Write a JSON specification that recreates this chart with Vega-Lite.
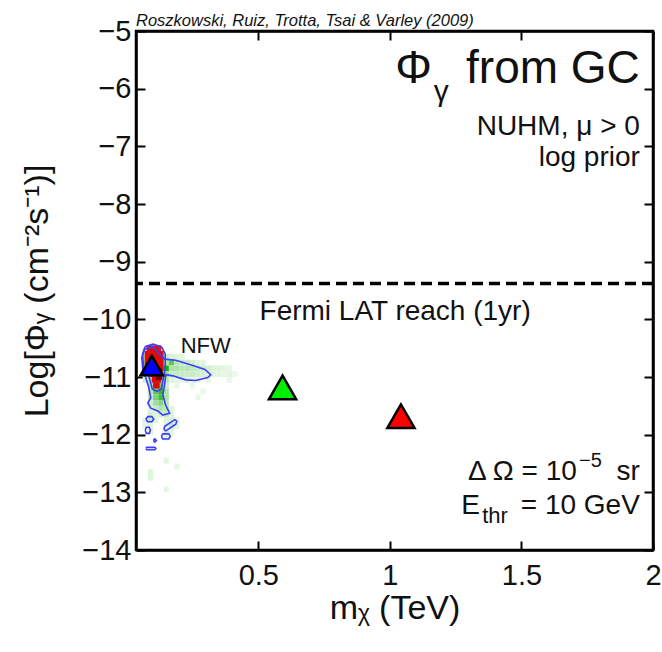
{
  "$schema": "https://vega.github.io/schema/vega-lite/v6.json",
  "width": 517,
  "height": 519,
  "autosize": {"type": "none"},
  "padding": {"left": 136, "top": 31, "right": 9, "bottom": 102},
  "background": "white",
  "title": {"text": "Roszkowski, Ruiz, Trotta, Tsai & Varley (2009)", "anchor": "start", "frame": "group", "offset": -12, "font": "Liberation Sans", "fontStyle": "italic", "fontWeight": "normal", "fontSize": 16.5, "color": "#111"},
  "config": {
    "view": {"stroke": "black", "strokeWidth": 2.5},
    "font": "Liberation Sans",
    "axis": {"domainColor": "black", "domainWidth": 2.5, "tickColor": "black", "tickWidth": 2, "tickSize": -9, "grid": false, "labelFont": "Liberation Sans", "labelFontSize": 29, "labelColor": "#111", "titleFont": "Liberation Sans", "titleFontSize": 34, "titleFontWeight": "normal", "titleColor": "#111", "labelFlush": false, "labelOverlap": false}
  },
  "datasets": {
    "green": [
      {"x":0.06,"x2":0.08,"y":-10.6,"y2":-10.5,"p":0.2},{"x":0.08,"x2":0.10,"y":-10.6,"y2":-10.5,"p":0.25},{"x":0.10,"x2":0.12,"y":-10.6,"y2":-10.5,"p":0.25},{"x":0.12,"x2":0.14,"y":-10.6,"y2":-10.5,"p":0.2},
      {"x":0.06,"x2":0.08,"y":-10.7,"y2":-10.6,"p":0.3},{"x":0.08,"x2":0.10,"y":-10.7,"y2":-10.6,"p":0.35},{"x":0.10,"x2":0.12,"y":-10.7,"y2":-10.6,"p":0.35},{"x":0.12,"x2":0.14,"y":-10.7,"y2":-10.6,"p":0.3},{"x":0.14,"x2":0.16,"y":-10.7,"y2":-10.6,"p":0.2},{"x":0.16,"x2":0.18,"y":-10.7,"y2":-10.6,"p":0.12},{"x":0.18,"x2":0.20,"y":-10.7,"y2":-10.6,"p":0.1},{"x":0.20,"x2":0.22,"y":-10.7,"y2":-10.6,"p":0.08},
      {"x":0.06,"x2":0.08,"y":-10.8,"y2":-10.7,"p":0.35},{"x":0.08,"x2":0.10,"y":-10.8,"y2":-10.7,"p":0.4},{"x":0.10,"x2":0.12,"y":-10.8,"y2":-10.7,"p":0.45},{"x":0.12,"x2":0.14,"y":-10.8,"y2":-10.7,"p":0.4},{"x":0.14,"x2":0.16,"y":-10.8,"y2":-10.7,"p":0.3},{"x":0.16,"x2":0.18,"y":-10.8,"y2":-10.7,"p":0.6},{"x":0.18,"x2":0.20,"y":-10.8,"y2":-10.7,"p":0.25},{"x":0.20,"x2":0.22,"y":-10.8,"y2":-10.7,"p":0.2},{"x":0.22,"x2":0.24,"y":-10.8,"y2":-10.7,"p":0.18},{"x":0.24,"x2":0.26,"y":-10.8,"y2":-10.7,"p":0.15},{"x":0.26,"x2":0.28,"y":-10.8,"y2":-10.7,"p":0.1},{"x":0.28,"x2":0.30,"y":-10.8,"y2":-10.7,"p":0.08},
      {"x":0.06,"x2":0.08,"y":-10.9,"y2":-10.8,"p":0.3},{"x":0.08,"x2":0.10,"y":-10.9,"y2":-10.8,"p":0.4},{"x":0.10,"x2":0.12,"y":-10.9,"y2":-10.8,"p":0.5},{"x":0.12,"x2":0.14,"y":-10.9,"y2":-10.8,"p":0.55},{"x":0.14,"x2":0.16,"y":-10.9,"y2":-10.8,"p":0.8},{"x":0.16,"x2":0.18,"y":-10.9,"y2":-10.8,"p":0.3},{"x":0.18,"x2":0.20,"y":-10.9,"y2":-10.8,"p":0.3},{"x":0.20,"x2":0.22,"y":-10.9,"y2":-10.8,"p":0.25},{"x":0.22,"x2":0.24,"y":-10.9,"y2":-10.8,"p":0.25},{"x":0.24,"x2":0.26,"y":-10.9,"y2":-10.8,"p":0.2},{"x":0.26,"x2":0.28,"y":-10.9,"y2":-10.8,"p":0.2},{"x":0.28,"x2":0.30,"y":-10.9,"y2":-10.8,"p":0.18},{"x":0.30,"x2":0.32,"y":-10.9,"y2":-10.8,"p":0.15},{"x":0.32,"x2":0.34,"y":-10.9,"y2":-10.8,"p":0.1},{"x":0.34,"x2":0.36,"y":-10.9,"y2":-10.8,"p":0.1},{"x":0.36,"x2":0.38,"y":-10.9,"y2":-10.8,"p":0.08},{"x":0.38,"x2":0.40,"y":-10.9,"y2":-10.8,"p":0.06},
      {"x":0.06,"x2":0.08,"y":-11.0,"y2":-10.9,"p":0.2},{"x":0.08,"x2":0.10,"y":-11.0,"y2":-10.9,"p":0.4},{"x":0.10,"x2":0.12,"y":-11.0,"y2":-10.9,"p":0.6},{"x":0.12,"x2":0.14,"y":-11.0,"y2":-10.9,"p":0.5},{"x":0.14,"x2":0.16,"y":-11.0,"y2":-10.9,"p":0.4},{"x":0.16,"x2":0.18,"y":-11.0,"y2":-10.9,"p":0.2},{"x":0.18,"x2":0.20,"y":-11.0,"y2":-10.9,"p":0.2},{"x":0.20,"x2":0.22,"y":-11.0,"y2":-10.9,"p":0.2},{"x":0.22,"x2":0.24,"y":-11.0,"y2":-10.9,"p":0.18},{"x":0.24,"x2":0.26,"y":-11.0,"y2":-10.9,"p":0.18},{"x":0.26,"x2":0.28,"y":-11.0,"y2":-10.9,"p":0.15},{"x":0.28,"x2":0.30,"y":-11.0,"y2":-10.9,"p":0.15},{"x":0.30,"x2":0.32,"y":-11.0,"y2":-10.9,"p":0.12},{"x":0.32,"x2":0.34,"y":-11.0,"y2":-10.9,"p":0.1},{"x":0.34,"x2":0.36,"y":-11.0,"y2":-10.9,"p":0.08},{"x":0.36,"x2":0.38,"y":-11.0,"y2":-10.9,"p":0.06},{"x":0.38,"x2":0.40,"y":-11.0,"y2":-10.9,"p":0.08},{"x":0.40,"x2":0.42,"y":-11.0,"y2":-10.9,"p":0.05},
      {"x":0.06,"x2":0.08,"y":-11.1,"y2":-11.0,"p":0.15},{"x":0.08,"x2":0.10,"y":-11.1,"y2":-11.0,"p":0.3},{"x":0.10,"x2":0.12,"y":-11.1,"y2":-11.0,"p":0.6},{"x":0.12,"x2":0.14,"y":-11.1,"y2":-11.0,"p":0.5},{"x":0.14,"x2":0.16,"y":-11.1,"y2":-11.0,"p":0.25},{"x":0.16,"x2":0.18,"y":-11.1,"y2":-11.0,"p":0.1},{"x":0.18,"x2":0.20,"y":-11.1,"y2":-11.0,"p":0.08},{"x":0.20,"x2":0.22,"y":-11.1,"y2":-11.0,"p":0.08},{"x":0.22,"x2":0.24,"y":-11.1,"y2":-11.0,"p":0.1},{"x":0.24,"x2":0.26,"y":-11.1,"y2":-11.0,"p":0.06},{"x":0.26,"x2":0.28,"y":-11.1,"y2":-11.0,"p":0.08},{"x":0.30,"x2":0.32,"y":-11.1,"y2":-11.0,"p":0.06},{"x":0.38,"x2":0.40,"y":-11.1,"y2":-11.0,"p":0.05},
      {"x":0.08,"x2":0.10,"y":-11.2,"y2":-11.1,"p":0.3},{"x":0.10,"x2":0.12,"y":-11.2,"y2":-11.1,"p":0.7},{"x":0.12,"x2":0.14,"y":-11.2,"y2":-11.1,"p":0.55},{"x":0.14,"x2":0.16,"y":-11.2,"y2":-11.1,"p":0.15},{"x":0.18,"x2":0.20,"y":-11.2,"y2":-11.1,"p":0.06},{"x":0.24,"x2":0.26,"y":-11.2,"y2":-11.1,"p":0.05},
      {"x":0.08,"x2":0.10,"y":-11.3,"y2":-11.2,"p":0.25},{"x":0.10,"x2":0.12,"y":-11.3,"y2":-11.2,"p":0.6},{"x":0.12,"x2":0.14,"y":-11.3,"y2":-11.2,"p":0.75},{"x":0.14,"x2":0.16,"y":-11.3,"y2":-11.2,"p":0.3},{"x":0.28,"x2":0.30,"y":-11.3,"y2":-11.2,"p":0.05},
      {"x":0.08,"x2":0.10,"y":-11.4,"y2":-11.3,"p":0.2},{"x":0.10,"x2":0.12,"y":-11.4,"y2":-11.3,"p":0.5},{"x":0.12,"x2":0.14,"y":-11.4,"y2":-11.3,"p":0.7},{"x":0.14,"x2":0.16,"y":-11.4,"y2":-11.3,"p":0.3},{"x":0.26,"x2":0.28,"y":-11.4,"y2":-11.3,"p":0.05},
      {"x":0.08,"x2":0.10,"y":-11.5,"y2":-11.4,"p":0.15},{"x":0.10,"x2":0.12,"y":-11.5,"y2":-11.4,"p":0.35},{"x":0.12,"x2":0.14,"y":-11.5,"y2":-11.4,"p":0.45},{"x":0.14,"x2":0.16,"y":-11.5,"y2":-11.4,"p":0.25},
      {"x":0.08,"x2":0.10,"y":-11.6,"y2":-11.5,"p":0.1},{"x":0.10,"x2":0.12,"y":-11.6,"y2":-11.5,"p":0.2},{"x":0.12,"x2":0.14,"y":-11.6,"y2":-11.5,"p":0.3},{"x":0.14,"x2":0.16,"y":-11.6,"y2":-11.5,"p":0.25},{"x":0.16,"x2":0.18,"y":-11.6,"y2":-11.5,"p":0.1},
      {"x":0.08,"x2":0.10,"y":-11.7,"y2":-11.6,"p":0.15},{"x":0.10,"x2":0.12,"y":-11.7,"y2":-11.6,"p":0.1},{"x":0.12,"x2":0.14,"y":-11.7,"y2":-11.6,"p":0.15},{"x":0.14,"x2":0.16,"y":-11.7,"y2":-11.6,"p":0.2},{"x":0.16,"x2":0.18,"y":-11.7,"y2":-11.6,"p":0.1},
      {"x":0.06,"x2":0.08,"y":-11.8,"y2":-11.7,"p":0.08},{"x":0.08,"x2":0.10,"y":-11.8,"y2":-11.7,"p":0.2},{"x":0.10,"x2":0.12,"y":-11.8,"y2":-11.7,"p":0.1},{"x":0.14,"x2":0.16,"y":-11.8,"y2":-11.7,"p":0.1},{"x":0.16,"x2":0.18,"y":-11.8,"y2":-11.7,"p":0.15},{"x":0.18,"x2":0.20,"y":-11.8,"y2":-11.7,"p":0.08},
      {"x":0.06,"x2":0.08,"y":-11.9,"y2":-11.8,"p":0.08},{"x":0.08,"x2":0.10,"y":-11.9,"y2":-11.8,"p":0.1},{"x":0.14,"x2":0.16,"y":-11.9,"y2":-11.8,"p":0.1},{"x":0.16,"x2":0.18,"y":-11.9,"y2":-11.8,"p":0.2},{"x":0.18,"x2":0.20,"y":-11.9,"y2":-11.8,"p":0.1},
      {"x":0.08,"x2":0.10,"y":-12.0,"y2":-11.9,"p":0.1},{"x":0.14,"x2":0.16,"y":-12.0,"y2":-11.9,"p":0.15},{"x":0.16,"x2":0.18,"y":-12.0,"y2":-11.9,"p":0.08},
      {"x":0.14,"x2":0.16,"y":-12.1,"y2":-12.0,"p":0.1},
      {"x":0.14,"x2":0.16,"y":-12.5,"y2":-12.4,"p":0.08},{"x":0.08,"x2":0.10,"y":-12.8,"y2":-12.6,"p":0.1},{"x":0.18,"x2":0.20,"y":-12.6,"y2":-12.5,"p":0.06},{"x":0.14,"x2":0.16,"y":-13.0,"y2":-12.9,"p":0.06}
    ],
    "red": [
      {"x":0.075,"x2":0.13,"y":-10.55,"y2":-10.45},
      {"x":0.068,"x2":0.14,"y":-10.9,"y2":-10.55},
      {"x":0.088,"x2":0.135,"y":-11.0,"y2":-10.9},
      {"x":0.095,"x2":0.13,"y":-11.1,"y2":-11.0},
      {"x":0.10,"x2":0.125,"y":-11.2,"y2":-11.1}
    ],
    "redDark": [
      {"x":0.11,"x2":0.135,"y":-11.05,"y2":-10.85}
    ],
    "contour": [
      {"c":1,"o":1,"x":0.068,"y":-10.52},{"c":1,"o":2,"x":0.099,"y":-10.48},{"c":1,"o":3,"x":0.118,"y":-10.57},{"c":1,"o":4,"x":0.144,"y":-10.69},{"c":1,"o":5,"x":0.186,"y":-10.71},{"c":1,"o":6,"x":0.251,"y":-10.80},{"c":1,"o":7,"x":0.297,"y":-10.87},{"c":1,"o":8,"x":0.319,"y":-10.96},{"c":1,"o":9,"x":0.308,"y":-11.01},{"c":1,"o":10,"x":0.262,"y":-11.06},{"c":1,"o":11,"x":0.224,"y":-11.05},{"c":1,"o":12,"x":0.175,"y":-10.98},{"c":1,"o":13,"x":0.148,"y":-10.96},{"c":1,"o":14,"x":0.144,"y":-11.13},{"c":1,"o":15,"x":0.137,"y":-11.31},{"c":1,"o":16,"x":0.148,"y":-11.49},{"c":1,"o":17,"x":0.163,"y":-11.63},{"c":1,"o":18,"x":0.137,"y":-11.66},{"c":1,"o":19,"x":0.118,"y":-11.59},{"c":1,"o":20,"x":0.091,"y":-11.54},{"c":1,"o":21,"x":0.080,"y":-11.45},{"c":1,"o":22,"x":0.091,"y":-11.36},{"c":1,"o":23,"x":0.084,"y":-11.19},{"c":1,"o":24,"x":0.072,"y":-11.01},{"c":1,"o":25,"x":0.061,"y":-10.87},{"c":1,"o":26,"x":0.057,"y":-10.66},{"c":1,"o":27,"x":0.068,"y":-10.52},
      {"c":2,"o":1,"x":0.07,"y":-10.47},{"c":2,"o":2,"x":0.1,"y":-10.43},{"c":2,"o":3,"x":0.132,"y":-10.48},{"c":2,"o":4,"x":0.146,"y":-10.6},{"c":2,"o":5,"x":0.146,"y":-10.85},{"c":2,"o":6,"x":0.14,"y":-11.0},{"c":2,"o":7,"x":0.132,"y":-11.2},{"c":2,"o":8,"x":0.115,"y":-11.25},{"c":2,"o":9,"x":0.097,"y":-11.21},{"c":2,"o":10,"x":0.085,"y":-11.0},{"c":2,"o":11,"x":0.064,"y":-10.86},{"c":2,"o":12,"x":0.06,"y":-10.6},{"c":2,"o":13,"x":0.07,"y":-10.47},
      {"c":3,"o":1,"x":0.0722,"y":-11.731},{"c":3,"o":2,"x":0.0798,"y":-11.687},{"c":3,"o":3,"x":0.0951,"y":-11.687},{"c":3,"o":4,"x":0.1027,"y":-11.731},{"c":3,"o":5,"x":0.0951,"y":-11.775},{"c":3,"o":6,"x":0.0798,"y":-11.775},{"c":3,"o":7,"x":0.0722,"y":-11.731},
      {"c":4,"o":1,"x":0.0703,"y":-11.924},{"c":4,"o":2,"x":0.0741,"y":-11.872},{"c":4,"o":3,"x":0.0856,"y":-11.872},{"c":4,"o":4,"x":0.0894,"y":-11.924},{"c":4,"o":5,"x":0.0856,"y":-11.977},{"c":4,"o":6,"x":0.0741,"y":-11.977},{"c":4,"o":7,"x":0.0703,"y":-11.924},
      {"c":5,"o":1,"x":0.1407,"y":-11.907},{"c":5,"o":2,"x":0.1445,"y":-11.854},{"c":5,"o":3,"x":0.1825,"y":-11.740},{"c":5,"o":4,"x":0.1901,"y":-11.766},{"c":5,"o":5,"x":0.1863,"y":-11.819},{"c":5,"o":6,"x":0.1483,"y":-11.933},{"c":5,"o":7,"x":0.1407,"y":-11.907},
      {"c":6,"o":1,"x":0.1312,"y":-12.03},{"c":6,"o":2,"x":0.1369,"y":-11.986},{"c":6,"o":3,"x":0.1597,"y":-11.986},{"c":6,"o":4,"x":0.1654,"y":-12.03},{"c":6,"o":5,"x":0.1597,"y":-12.074},{"c":6,"o":6,"x":0.1369,"y":-12.074},{"c":6,"o":7,"x":0.1312,"y":-12.03},
      {"c":7,"o":1,"x":0.1008,"y":-12.100},{"c":7,"o":2,"x":0.1065,"y":-12.074},{"c":7,"o":3,"x":0.1122,"y":-12.100},{"c":7,"o":4,"x":0.1065,"y":-12.127},{"c":7,"o":5,"x":0.1008,"y":-12.100},
      {"c":8,"o":1,"x":0.0722,"y":-12.241},{"c":8,"o":2,"x":0.076,"y":-12.220},{"c":8,"o":3,"x":0.1065,"y":-12.220},{"c":8,"o":4,"x":0.1103,"y":-12.241},{"c":8,"o":5,"x":0.1065,"y":-12.262},{"c":8,"o":6,"x":0.076,"y":-12.262},{"c":8,"o":7,"x":0.0722,"y":-12.241}
    ],
    "bench": [
      {"x":0.592,"y":-11.18,"s":"green"},
      {"x":1.042,"y":-11.68,"s":"red"}
    ],
    "benchBlue": [
      {"x":0.095,"y":-10.80,"s":"blue"}
    ]
  },
  "layer": [
    {
      "data": {"name": "green"},
      "mark": {"type": "rect", "strokeWidth": 0},
      "encoding": {
        "x": {"field": "x", "type": "quantitative", "scale": {"domain": [0.035, 2], "nice": false, "zero": false},
              "axis": {"orient": "bottom", "values": [0.5, 1, 1.5, 2], "format": "~g", "labelPadding": 20, "title": "mᵪ (TeV)", "titlePadding": 1}},
        "x2": {"field": "x2"},
        "y": {"field": "y", "type": "quantitative", "scale": {"domain": [-14, -5], "nice": false, "zero": false},
              "axis": {"orient": "left", "values": [-14, -13, -12, -11, -10, -9, -8, -7, -6, -5], "format": "d", "labelPadding": 14, "title": "Log[Φᵧ (cm⁻²s⁻¹)]", "titlePadding": 27}},
        "y2": {"field": "y2"},
        "color": {"field": "p", "type": "quantitative", "scale": {"domain": [0, 0.8], "range": ["#f6fcf6", "#12b012"], "clamp": true}, "legend": null}
      }
    },
    {
      "data": {"name": "red"},
      "mark": {"type": "rect", "strokeWidth": 0, "opacity": 0.95, "fill": "#e00000"},
      "encoding": {
        "x": {"field": "x", "type": "quantitative", "axis": null},
        "x2": {"field": "x2"},
        "y": {"field": "y", "type": "quantitative", "axis": null},
        "y2": {"field": "y2"}
      }
    },
    {
      "data": {"name": "redDark"},
      "mark": {"type": "rect", "strokeWidth": 0, "opacity": 0.9, "fill": "#6a0000"},
      "encoding": {
        "x": {"field": "x", "type": "quantitative", "axis": null},
        "x2": {"field": "x2"},
        "y": {"field": "y", "type": "quantitative", "axis": null},
        "y2": {"field": "y2"}
      }
    },
    {
      "data": {"name": "contour"},
      "mark": {"type": "line", "color": "#3d3dff", "strokeWidth": 1.6},
      "encoding": {
        "x": {"field": "x", "type": "quantitative", "axis": null},
        "y": {"field": "y", "type": "quantitative", "axis": null},
        "detail": {"field": "c", "type": "nominal"},
        "order": {"field": "o", "type": "quantitative"}
      }
    },
    {
      "data": {"values": [{"v": -9.38}]},
      "mark": {"type": "rule", "color": "black", "strokeWidth": 3.5, "strokeDash": [11, 6]},
      "encoding": {"y": {"field": "v", "type": "quantitative", "axis": null}}
    },
    {
      "data": {"name": "bench"},
      "mark": {"type": "point", "shape": "triangle-up", "size": 740, "filled": true, "opacity": 1, "stroke": "black", "strokeWidth": 2.5},
      "encoding": {
        "x": {"field": "x", "type": "quantitative", "axis": {"orient": "top", "values": [0.5, 1, 1.5, 2], "labels": false, "title": null}},
        "y": {"field": "y", "type": "quantitative", "axis": {"orient": "right", "values": [-14, -13, -12, -11, -10, -9, -8, -7, -6, -5], "labels": false, "title": null}},
        "fill": {"field": "s", "type": "nominal", "scale": {"domain": ["green", "red"], "range": ["#00ee00", "#ff0000"]}, "legend": null}
      }
    },
    {
      "data": {"name": "benchBlue"},
      "mark": {"type": "point", "shape": "triangle-up", "size": 500, "filled": true, "opacity": 1, "stroke": "black", "strokeWidth": 2.5, "fill": "#0000ff"},
      "encoding": {
        "x": {"field": "x", "type": "quantitative", "axis": null},
        "y": {"field": "y", "type": "quantitative", "axis": null}
      }
    },
    {
      "data": {"values": [{"x": 1.95, "y": -5.9, "t": "from GC"}]},
      "mark": {"type": "text", "align": "right", "baseline": "alphabetic", "fontSize": 46, "color": "#111"},
      "encoding": {"x": {"field": "x", "type": "quantitative", "axis": null}, "y": {"field": "y", "type": "quantitative", "axis": null}, "text": {"field": "t"}}
    },
    {
      "data": {"values": [{"x": 1.95, "y": -5.9, "t": "Φ"}]},
      "mark": {"type": "text", "align": "right", "baseline": "alphabetic", "fontSize": 46, "dx": -208, "color": "#111"},
      "encoding": {"x": {"field": "x", "type": "quantitative", "axis": null}, "y": {"field": "y", "type": "quantitative", "axis": null}, "text": {"field": "t"}}
    },
    {
      "data": {"values": [{"x": 1.95, "y": -5.9, "t": "γ"}]},
      "mark": {"type": "text", "align": "right", "baseline": "alphabetic", "fontSize": 30, "dx": -191, "dy": 18, "color": "#111"},
      "encoding": {"x": {"field": "x", "type": "quantitative", "axis": null}, "y": {"field": "y", "type": "quantitative", "axis": null}, "text": {"field": "t"}}
    },
    {
      "data": {"values": [{"x": 1.95, "y": -6.66, "t": "NUHM, μ > 0"}, {"x": 1.95, "y": -7.2, "t": "log prior"}]},
      "mark": {"type": "text", "align": "right", "baseline": "middle", "fontSize": 28, "color": "#111"},
      "encoding": {"x": {"field": "x", "type": "quantitative", "axis": null}, "y": {"field": "y", "type": "quantitative", "axis": null}, "text": {"field": "t"}}
    },
    {
      "data": {"values": [{"x": 1.02, "y": -9.87, "t": "Fermi LAT reach (1yr)"}]},
      "mark": {"type": "text", "align": "center", "baseline": "middle", "fontSize": 28, "color": "#111"},
      "encoding": {"x": {"field": "x", "type": "quantitative", "axis": null}, "y": {"field": "y", "type": "quantitative", "axis": null}, "text": {"field": "t"}}
    },
    {
      "data": {"values": [{"x": 0.30, "y": -10.46, "t": "NFW"}]},
      "mark": {"type": "text", "align": "center", "baseline": "middle", "fontSize": 22, "color": "#111"},
      "encoding": {"x": {"field": "x", "type": "quantitative", "axis": null}, "y": {"field": "y", "type": "quantitative", "axis": null}, "text": {"field": "t"}}
    },
    {
      "data": {"values": [{"x": 1.95, "y": -12.65, "t": "sr"}]},
      "mark": {"type": "text", "align": "right", "baseline": "middle", "fontSize": 28, "color": "#111"},
      "encoding": {"x": {"field": "x", "type": "quantitative", "axis": null}, "y": {"field": "y", "type": "quantitative", "axis": null}, "text": {"field": "t"}}
    },
    {
      "data": {"values": [{"x": 1.95, "y": -12.65, "t": "−5"}]},
      "mark": {"type": "text", "align": "right", "baseline": "middle", "fontSize": 20, "dx": -38, "dy": -11, "color": "#111"},
      "encoding": {"x": {"field": "x", "type": "quantitative", "axis": null}, "y": {"field": "y", "type": "quantitative", "axis": null}, "text": {"field": "t"}}
    },
    {
      "data": {"values": [{"x": 1.95, "y": -12.65, "t": "Δ Ω = 10"}]},
      "mark": {"type": "text", "align": "right", "baseline": "middle", "fontSize": 28, "dx": -63, "color": "#111"},
      "encoding": {"x": {"field": "x", "type": "quantitative", "axis": null}, "y": {"field": "y", "type": "quantitative", "axis": null}, "text": {"field": "t"}}
    },
    {
      "data": {"values": [{"x": 1.95, "y": -13.24, "t": "= 10 GeV"}]},
      "mark": {"type": "text", "align": "right", "baseline": "middle", "fontSize": 28, "color": "#111"},
      "encoding": {"x": {"field": "x", "type": "quantitative", "axis": null}, "y": {"field": "y", "type": "quantitative", "axis": null}, "text": {"field": "t"}}
    },
    {
      "data": {"values": [{"x": 1.95, "y": -13.24, "t": "thr"}]},
      "mark": {"type": "text", "align": "right", "baseline": "middle", "fontSize": 22, "dx": -132, "dy": 10, "color": "#111"},
      "encoding": {"x": {"field": "x", "type": "quantitative", "axis": null}, "y": {"field": "y", "type": "quantitative", "axis": null}, "text": {"field": "t"}}
    },
    {
      "data": {"values": [{"x": 1.95, "y": -13.24, "t": "E"}]},
      "mark": {"type": "text", "align": "right", "baseline": "middle", "fontSize": 28, "dx": -160, "color": "#111"},
      "encoding": {"x": {"field": "x", "type": "quantitative", "axis": null}, "y": {"field": "y", "type": "quantitative", "axis": null}, "text": {"field": "t"}}
    }
  ],
  "resolve": {"axis": {"x": "independent", "y": "independent"}}
}
